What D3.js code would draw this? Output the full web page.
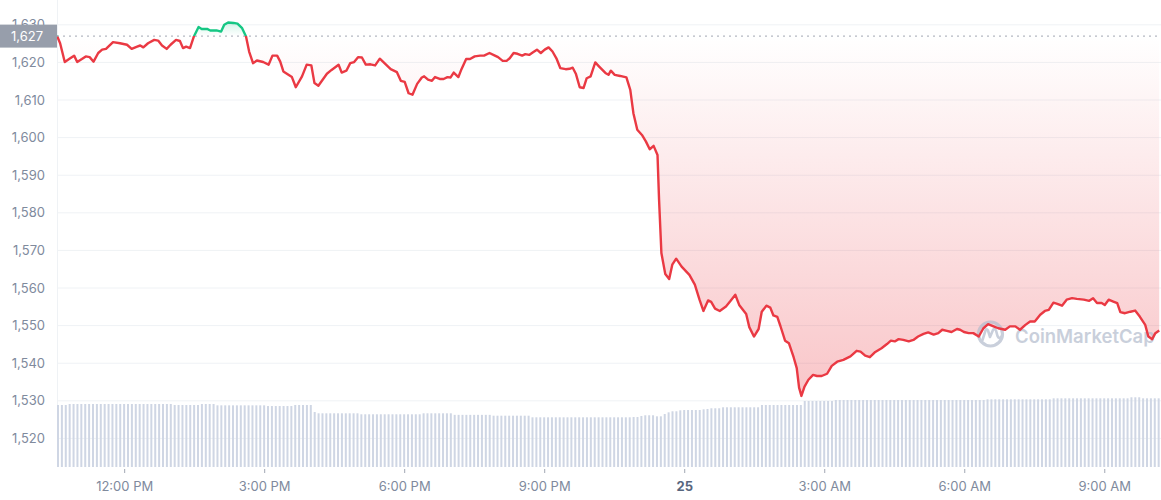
<!DOCTYPE html>
<html><head><meta charset="utf-8">
<script src="https://cdn.jsdelivr.net/npm/d3@7"></script>
<style>body{margin:0;background:#fff;} svg{display:block;font-family:Inter, "Noto Sans", sans-serif;}</style>
</head><body><svg id="c" width="1161" height="500"></svg>
<script>
// ---- data ----
const startTime = "2023-02-24T10:33:00";
const endOffsetMinutes = 1418;
const referencePrice = 1627;
const referenceLabel = "1,627";
const priceMinutes = [
0,4,10,17,22,26,32,37,42,47,53,58,63,72,81,90,96,103,107,111,117,125,130,135,141,146,153,158,162,166,171,176,182,186,193,197,205,211,215,220,227,232,238,243,247,252,257,265,272,277,283,287,
291,302,307,315,321,327,331,336,347,353,362,366,372,377,382,387,392,397,403,409,415,423,429,437,442,447,452,457,463,469,472,477,482,486,492,497,502,506,510,516,520,526,531,537,544,549,556,563,567,573,578,582,587,592,598,602,607,612,617,622,627,632,637,642,647,654,659,663,667,672,677,681,686,692,697,705,709,712,717,724,732,737,
741,746,752,757,762,767,772,774,777,
782,787,791,796,803,813,820,826,831,837,841,846,852,860,866,872,877,886,890,896,902,906,912,917,921,926,930,936,941,947,951,954,957,961,966,972,977,983,990,996,1003,
1011,1020,1028,1033,1039,1045,1052,1060,1067,1072,1077,1082,1088,1095,1101,1107,1114,1120,1127,1133,1138,1144,1150,1157,1161,1166,1172,1178,1185,1191,1197,1204,1210,1219,1225,1232,1238,1245,1251,1257,1264,1270,1275,1281,1286,1292,1298,1305,1311,1320,1327,1332,1337,1343,1347,1352,1358,1363,1367,1373,1380,1386,1392,1399,1403,1408,1412,1417];
const prices = [
1627.1,1625.1,1620.1,1621.1,1621.8,1620.1,1620.9,1621.6,1621.4,1620.2,1622.5,1623.4,1623.6,1625.4,1625.1,1624.7,1623.6,1624.2,1624.5,1624.0,1625.1,1626.0,1625.8,1624.5,1623.6,1624.7,1626.0,1625.7,1623.8,1624.2,1623.8,1626.9,1629.4,1628.9,1628.9,1628.5,1628.5,1628.2,1630.0,1630.6,1630.5,1630.3,1629.1,1626.9,1622.9,1619.8,1620.5,1620.1,1619.4,1621.8,1621.8,1620.2,
1617.6,1616.1,1613.4,1616.3,1619.4,1619.2,1614.5,1613.8,1617.0,1618.0,1619.4,1617.3,1617.8,1619.8,1620.1,1621.4,1621.3,1619.4,1619.5,1619.2,1621.0,1619.4,1618.2,1617.4,1615.1,1614.8,1611.8,1611.4,1614.3,1616.0,1616.3,1615.4,1615.1,1616.1,1615.6,1615.6,1616.1,1616.0,1617.3,1616.1,1618.2,1620.9,1620.9,1621.6,1621.8,1621.8,1622.5,1621.8,1621.4,1620.4,1620.4,1621.1,1622.5,1622.3,1621.8,1622.2,1622.0,1622.7,1623.4,1622.5,1623.4,1624.0,1622.9,1621.1,1618.5,1618.2,1618.3,1618.6,1617.0,1613.4,1613.2,1615.8,1616.3,1620.0,1618.9,1617.2,1616.7,1617.8,1616.7,1616.4,1616.0,1612.7,
1606.5,1602.1,1600.7,1599.0,1596.9,1597.8,1595.4,1583.5,1569.3,
1563.7,1562.4,1566.2,1567.8,1565.7,1563.5,1560.9,1556.9,1553.9,1556.7,1556.3,1554.5,1553.9,1555.1,1556.6,1558.2,1555.5,1553.1,1549.6,1547.1,1549.1,1553.7,1555.3,1554.8,1552.7,1552.3,1549.9,1546.0,1545.3,1541.6,1538.7,1533.5,1531.3,1533.8,1535.6,1536.9,1536.6,1536.6,1537.2,1539.3,1540.4,
1540.9,1541.8,1543.3,1543.1,1542.0,1541.6,1543.0,1544.0,1545.1,1546.0,1545.8,1546.4,1546.2,1545.8,1546.2,1547.1,1547.8,1548.2,1547.6,1548.0,1548.9,1548.6,1548.3,1549.1,1548.9,1548.3,1548.0,1548.0,1547.1,1549.3,1550.4,1549.8,1549.3,1548.9,1549.8,1549.8,1548.9,1550.2,1551.1,1551.1,1552.9,1553.9,1554.2,1556.1,1555.8,1555.3,1556.9,1557.3,1557.1,1556.9,1556.6,1557.3,1556.0,1556.0,1555.5,1556.9,1556.4,1556.0,1553.6,1553.3,1553.7,1554.0,1552.4,1550.2,1547.1,1546.4,1548.0,1548.7];
const volumeStepMinutes = 5;
// 24h volume (billions), one bar per 5 minutes
const volumes = [
8.86,8.86,8.86,
9.00,9.00,9.00,9.00,9.00,9.00,9.00,9.00,9.00,9.00,9.00,9.00,9.00,9.00,9.00,9.00,9.00,9.00,9.00,9.00,9.00,9.00,9.00,9.00,9.00,9.00,9.00,
8.86,8.86,8.86,8.86,8.86,8.86,8.86,
9.00,9.00,9.00,9.00,
8.81,8.81,8.81,8.81,8.81,8.81,8.81,8.81,8.81,8.81,8.81,8.81,8.81,
8.71,8.71,8.71,8.71,8.71,8.71,8.71,
8.86,8.86,8.86,8.86,8.86,
7.86,
7.67,7.67,7.67,7.67,7.67,7.67,7.67,7.67,7.67,7.67,7.67,
7.53,7.53,7.53,7.53,7.53,7.53,7.53,7.53,7.53,7.53,7.53,7.53,7.53,7.53,7.53,7.53,
7.67,7.67,7.67,7.67,7.67,7.67,7.67,7.67,
7.45,7.45,7.45,7.45,7.45,7.45,7.45,7.45,7.45,7.45,
7.33,7.33,7.33,7.33,7.33,7.33,7.33,7.33,7.33,7.33,
7.10,7.10,7.10,7.10,7.10,7.10,7.10,7.10,7.10,7.10,7.10,7.10,7.10,7.10,7.10,7.10,7.10,7.10,7.10,7.10,7.10,7.10,7.10,7.10,7.10,7.10,7.14,
7.14,7.29,7.39,7.39,7.39,7.24,7.24,7.57,7.81,7.96,7.96,8.10,8.14,8.14,8.14,8.14,8.14,8.24,8.29,8.39,8.39,8.39,8.53,8.53,8.53,
8.53,8.53,8.53,8.53,8.53,8.53,8.53,
8.86,8.86,8.86,8.86,8.86,8.86,8.86,8.86,8.86,8.86,8.86,
9.43,9.43,9.43,9.43,9.43,9.43,9.43,9.43,
9.57,9.57,9.57,9.57,9.57,9.57,9.57,9.57,9.57,9.57,9.57,9.57,9.57,9.57,9.57,9.57,9.57,9.57,9.57,9.57,9.57,9.57,9.57,9.57,9.57,9.57,9.57,9.57,9.57,9.57,9.57,9.57,9.57,9.57,9.57,9.57,9.57,9.57,9.57,
9.67,9.67,9.67,9.67,9.67,9.67,9.67,9.67,9.67,9.67,9.67,9.67,9.67,9.67,9.67,9.67,9.67,
9.81,9.81,9.81,9.81,9.81,9.81,9.81,9.81,9.81,9.81,9.81,9.81,9.81,9.81,9.81,9.81,9.81,9.81,9.81,9.81,
9.96,9.96,9.96,
9.81,9.81,9.81,9.81,9.81];
const yTicks = [1520,1530,1540,1550,1560,1570,1580,1590,1600,1610,1620,1630];
const xTickTimes = ["2023-02-24T12:00:00","2023-02-24T15:00:00","2023-02-24T18:00:00","2023-02-24T21:00:00","2023-02-25T00:00:00","2023-02-25T03:00:00","2023-02-25T06:00:00","2023-02-25T09:00:00"];
const xTickLabels = ["12:00 PM","3:00 PM","6:00 PM","9:00 PM","25","3:00 AM","6:00 AM","9:00 AM"];
const boldTicks = ["25"];

// ---- chart ----
const W = 1161, H = 500;
const L = 57, R = 1160, T = 0, B = 467;
const t0 = new Date(startTime);
const addMin = (m) => new Date(t0.getTime() + m * 60000);
const svg = d3.select("#c");

const x = d3.scaleTime().domain([t0, addMin(endOffsetMinutes)]).range([L, R]);
const y = d3.scaleLinear().domain([1512.4, 1636.6]).range([B, T]);
const yv = d3.scaleLinear().domain([0, 10]).range([B, 397]);

const RED = "#ea3943", GREEN = "#16c784", AXIS = "#808a9d";
const data = prices.map((v, i) => ({t: addMin(priceMinutes[i]), v}));
const yBase = y(referencePrice);

const defs = svg.append("defs");
const gr = defs.append("linearGradient").attr("id","gRed").attr("gradientUnits","userSpaceOnUse")
  .attr("x1",0).attr("x2",0).attr("y1",yBase).attr("y2",y(1528));
gr.append("stop").attr("offset",0).attr("stop-color",RED).attr("stop-opacity",0.0);
gr.append("stop").attr("offset",1).attr("stop-color",RED).attr("stop-opacity",0.3);
const gg = defs.append("linearGradient").attr("id","gGreen").attr("gradientUnits","userSpaceOnUse")
  .attr("x1",0).attr("x2",0).attr("y1",yBase).attr("y2",y(1632));
gg.append("stop").attr("offset",0).attr("stop-color",GREEN).attr("stop-opacity",0.0);
gg.append("stop").attr("offset",1).attr("stop-color",GREEN).attr("stop-opacity",0.25);
defs.append("clipPath").attr("id","cAbove").append("rect").attr("x",0).attr("y",0).attr("width",W).attr("height",yBase);
defs.append("clipPath").attr("id","cBelow").append("rect").attr("x",0).attr("y",yBase).attr("width",W).attr("height",H-yBase);

// grid
svg.append("g").selectAll("line").data(yTicks).join("line")
  .attr("x1",L).attr("x2",W).attr("y1",d=>y(d)).attr("y2",d=>y(d))
  .attr("stroke","#eff2f5").attr("stroke-width",1);
svg.append("line").attr("x1",L+0.5).attr("x2",L+0.5).attr("y1",0).attr("y2",B).attr("stroke","#eff2f5");

// volume bars
svg.append("g").selectAll("rect").data(volumes).join("rect")
  .attr("x",(d,i)=>x(addMin(i*volumeStepMinutes)))
  .attr("width",2)
  .attr("y",d=>yv(d)).attr("height",d=>B-yv(d))
  .attr("fill","#cfd6e4");

// areas
const area = d3.area().x(d=>x(d.t)).y0(yBase).y1(d=>y(d.v));
const line = d3.line().x(d=>x(d.t)).y(d=>y(d.v));
svg.append("path").datum(data).attr("d",area).attr("fill","url(#gRed)").attr("clip-path","url(#cBelow)");
svg.append("path").datum(data).attr("d",area).attr("fill","url(#gGreen)").attr("clip-path","url(#cAbove)");

// watermark
const wm = svg.append("g").attr("opacity",0.7);
wm.append("circle").attr("cx",990.5).attr("cy",334).attr("r",12).attr("fill","none").attr("stroke","#b3bccd").attr("stroke-width",3.2);
wm.append("path").attr("d","M982.5,340 L985.5,330.5 Q986.5,328 988,330.5 L990,337 L993,330 Q994.5,327.5 996,330.5 L997.5,336 Q999,339.5 1001.5,336.5")
  .attr("fill","none").attr("stroke","#b3bccd").attr("stroke-width",2.6).attr("stroke-linecap","round").attr("stroke-linejoin","round");
wm.append("text").attr("x",1015).attr("y",342.5).attr("font-size",18.5).attr("font-weight",600)
  .attr("fill","#b3bccd").text("CoinMarketCap");

// lines
svg.append("path").datum(data).attr("d",line).attr("fill","none").attr("stroke",RED).attr("stroke-width",2.4)
  .attr("stroke-linejoin","round").attr("clip-path","url(#cBelow)");
svg.append("path").datum(data).attr("d",line).attr("fill","none").attr("stroke",GREEN).attr("stroke-width",2.4)
  .attr("stroke-linejoin","round").attr("clip-path","url(#cAbove)");

// reference dotted line
svg.append("line").attr("x1",L).attr("x2",W).attr("y1",yBase).attr("y2",yBase)
  .attr("stroke","#a1a7b3").attr("stroke-width",1).attr("stroke-dasharray","2,4");

// y labels
svg.append("g").selectAll("text").data(yTicks).join("text")
  .attr("x",45).attr("y",d=>y(d)).attr("dy","0.35em").attr("text-anchor","end")
  .attr("font-size",13).attr("fill",AXIS).text(d=>d3.format(",")(d));

// current price label (drawn over the 1,630 tick label, as in the original)
svg.append("rect").attr("x",0).attr("y",yBase-11.5).attr("width",L).attr("height",23).attr("fill","#979eab");
svg.append("text").attr("x",27).attr("y",yBase).attr("dy","0.35em").attr("text-anchor","middle")
  .attr("font-size",13).attr("fill","#fff").text(referenceLabel);

// x axis
const xt = xTickTimes.map((s,i)=>({t:new Date(s), label:xTickLabels[i]}));
const xg = svg.append("g");
xg.selectAll("line").data(xt).join("line")
  .attr("x1",d=>x(d.t)).attr("x2",d=>x(d.t)).attr("y1",469).attr("y2",473)
  .attr("stroke","#a1a7b3").attr("stroke-width",1);
xg.selectAll("text").data(xt).join("text")
  .attr("x",d=>x(d.t)).attr("y",491).attr("text-anchor","middle").attr("font-size",13)
  .attr("font-weight",d=>boldTicks.includes(d.label)?700:400)
  .attr("fill",d=>boldTicks.includes(d.label)?"#58667e":AXIS)
  .text(d=>d.label);
</script>
</body></html>
